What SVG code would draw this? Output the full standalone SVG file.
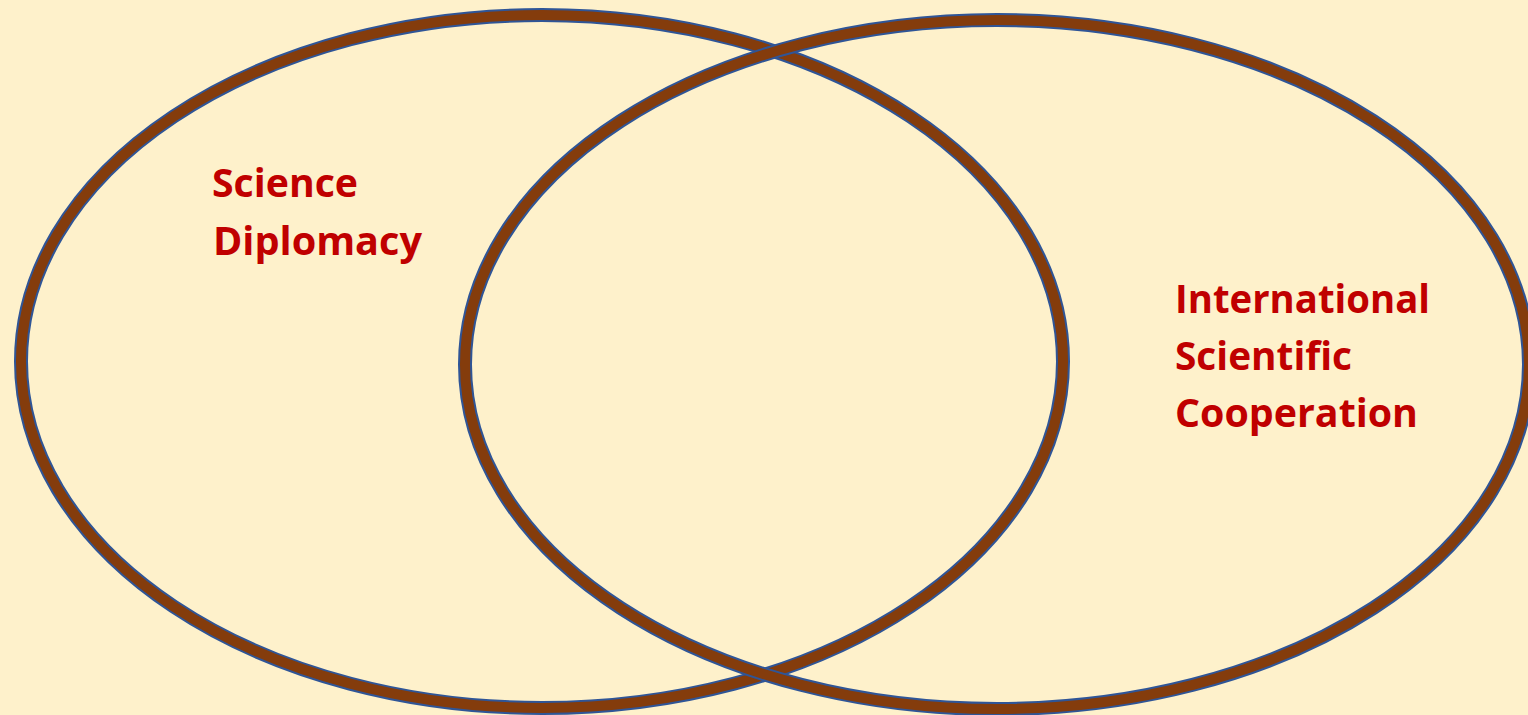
<svg xmlns="http://www.w3.org/2000/svg" width="1528" height="715" viewBox="0 0 1528 715">
  <style>
    .ring-outer { fill: none; stroke: #2F5597; stroke-width: 14; }
    .ring-inner { fill: none; stroke: #843C0C; stroke-width: 10; }
    .label { font-family: "Open Sans", "Liberation Sans", Arial, sans-serif; font-weight: bold; font-size: 39px; fill: #C00000; }
  </style>
  <rect x="0" y="0" width="1528" height="715" fill="#FEF1CB"/>
  <g id="science-diplomacy">
    <ellipse class="ring-outer" cx="542" cy="361.5" rx="521" ry="346.5"/>
    <ellipse class="ring-inner" cx="542" cy="361.5" rx="521" ry="346.5"/>
  </g>
  <g id="international-scientific-cooperation">
    <ellipse class="ring-outer" cx="997" cy="364.5" rx="532" ry="344.5"/>
    <ellipse class="ring-inner" cx="997" cy="364.5" rx="532" ry="344.5"/>
  </g>
  <g id="labels">
    <text class="label" x="212" y="197" textLength="146" lengthAdjust="spacingAndGlyphs">Science</text>
    <text class="label" x="213" y="255" textLength="209" lengthAdjust="spacingAndGlyphs">Diplomacy</text>
    <text class="label" x="1175" y="313" textLength="255" lengthAdjust="spacingAndGlyphs">International</text>
    <text class="label" x="1175" y="370" textLength="177" lengthAdjust="spacingAndGlyphs">Scientific</text>
    <text class="label" x="1175" y="427" textLength="243" lengthAdjust="spacingAndGlyphs">Cooperation</text>
  </g>
</svg>
